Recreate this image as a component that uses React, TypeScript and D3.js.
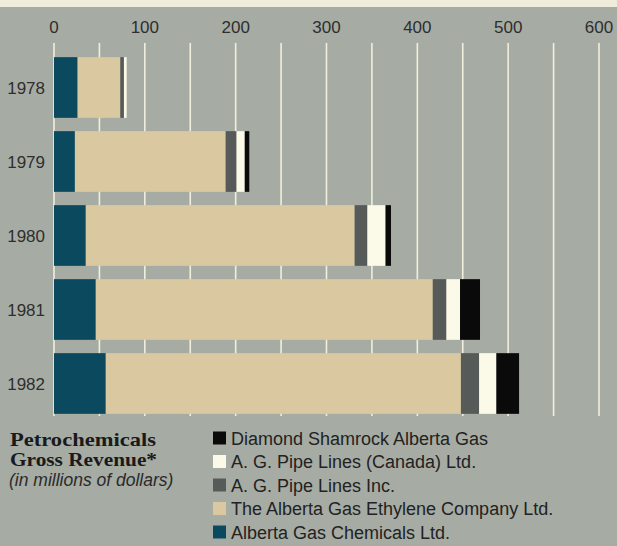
import React from "react";
import * as d3 from "d3";

const years = ["1978", "1979", "1980", "1981", "1982"];
const chemicals = [26, 23, 35, 46, 57];
const ethylene = [47, 166, 296, 371, 391];
const pipeInc = [4, 12, 14, 15, 20];
const pipeCanada = [3, 9, 20, 15, 19];
const diamond = [0, 5, 6, 22, 25];

const seriesNames = [
  "Alberta Gas Chemicals Ltd.",
  "The Alberta Gas Ethylene Company Ltd.",
  "A. G. Pipe Lines Inc.",
  "A. G. Pipe Lines (Canada) Ltd.",
  "Diamond Shamrock Alberta Gas",
];
const seriesColors = ["#0b495e", "#dac9a0", "#565a58", "#fbf9e7", "#0a0a0a"];
const tickValues = [0, 100, 200, 300, 400, 500, 600];
const gridValues = d3.range(0, 601, 50);

export default function App() {
  const W = 617;
  const H = 546;
  const x = d3.scaleLinear().domain([0, 600]).range([54, 599]);
  const y = d3
    .scaleBand<string>()
    .domain(years)
    .range([50.5, 420.5])
    .paddingInner(0.18)
    .paddingOuter(0.09);

  const rows = years.map((yr, i) => ({
    year: yr,
    s0: chemicals[i],
    s1: ethylene[i],
    s2: pipeInc[i],
    s3: pipeCanada[i],
    s4: diamond[i],
  }));
  const stack = d3.stack<any>().keys(["s0", "s1", "s2", "s3", "s4"]);
  const stacked = stack(rows);

  const sans = "'Liberation Sans', Arial, Helvetica, sans-serif";
  const serif = "'Liberation Serif', 'Times New Roman', serif";
  const legendOrder = [4, 3, 2, 1, 0];

  return (
    <svg
      width={W}
      height={H}
      style={{ position: "fixed", left: 0, top: 0, display: "block" }}
    >
      <rect x={0} y={0} width={W} height={H} fill="#a6aca4" />
      <rect x={0} y={0} width={W} height={7} fill="#f0ecdc" />

      {gridValues.map((v) => (
        <line
          key={v}
          x1={x(v)}
          x2={x(v)}
          y1={43}
          y2={416}
          stroke="#f1eedc"
          strokeWidth={1.6}
        />
      ))}

      {tickValues.map((v) => (
        <text
          key={v}
          x={x(v)}
          y={33}
          textAnchor="middle"
          fontFamily={sans}
          fontSize={17}
          fill="#2e2e2e"
        >
          {v}
        </text>
      ))}

      {stacked.map((layer, si) => (
        <g key={si} fill={seriesColors[si]}>
          {layer.map((d, i) =>
            d[1] - d[0] > 0 ? (
              <rect
                key={i}
                x={x(d[0])}
                y={y(years[i])}
                width={x(d[1]) - x(d[0])}
                height={y.bandwidth()}
              />
            ) : null
          )}
        </g>
      ))}

      {years.map((yr) => (
        <text
          key={yr}
          x={45}
          y={(y(yr) as number) + y.bandwidth() / 2 + 6.5}
          textAnchor="end"
          fontFamily={sans}
          fontSize={17}
          fill="#2e2e2e"
        >
          {yr}
        </text>
      ))}

      <text
        x={10}
        y={446}
        fontFamily={serif}
        fontWeight="bold"
        fontSize={19}
        fill="#1a1a1a"
        textLength={146}
        lengthAdjust="spacingAndGlyphs"
      >
        Petrochemicals
      </text>
      <text
        x={10}
        y={466}
        fontFamily={serif}
        fontWeight="bold"
        fontSize={19}
        fill="#1a1a1a"
        textLength={147}
        lengthAdjust="spacingAndGlyphs"
      >
        Gross Revenue*
      </text>
      <text
        x={9}
        y={486}
        fontFamily={sans}
        fontStyle="italic"
        fontSize={17.5}
        fill="#2a2a2a"
      >
        (in millions of dollars)
      </text>

      {legendOrder.map((si, r) => {
        const cy = 438 + r * 23.5;
        return (
          <g key={si}>
            <rect
              x={213}
              y={cy - 6.5}
              width={13}
              height={13}
              fill={seriesColors[si]}
            />
            <text
              x={231}
              y={cy + 6.5}
              fontFamily={sans}
              fontSize={18}
              fill="#222"
            >
              {seriesNames[si]}
            </text>
          </g>
        );
      })}
    </svg>
  );
}
